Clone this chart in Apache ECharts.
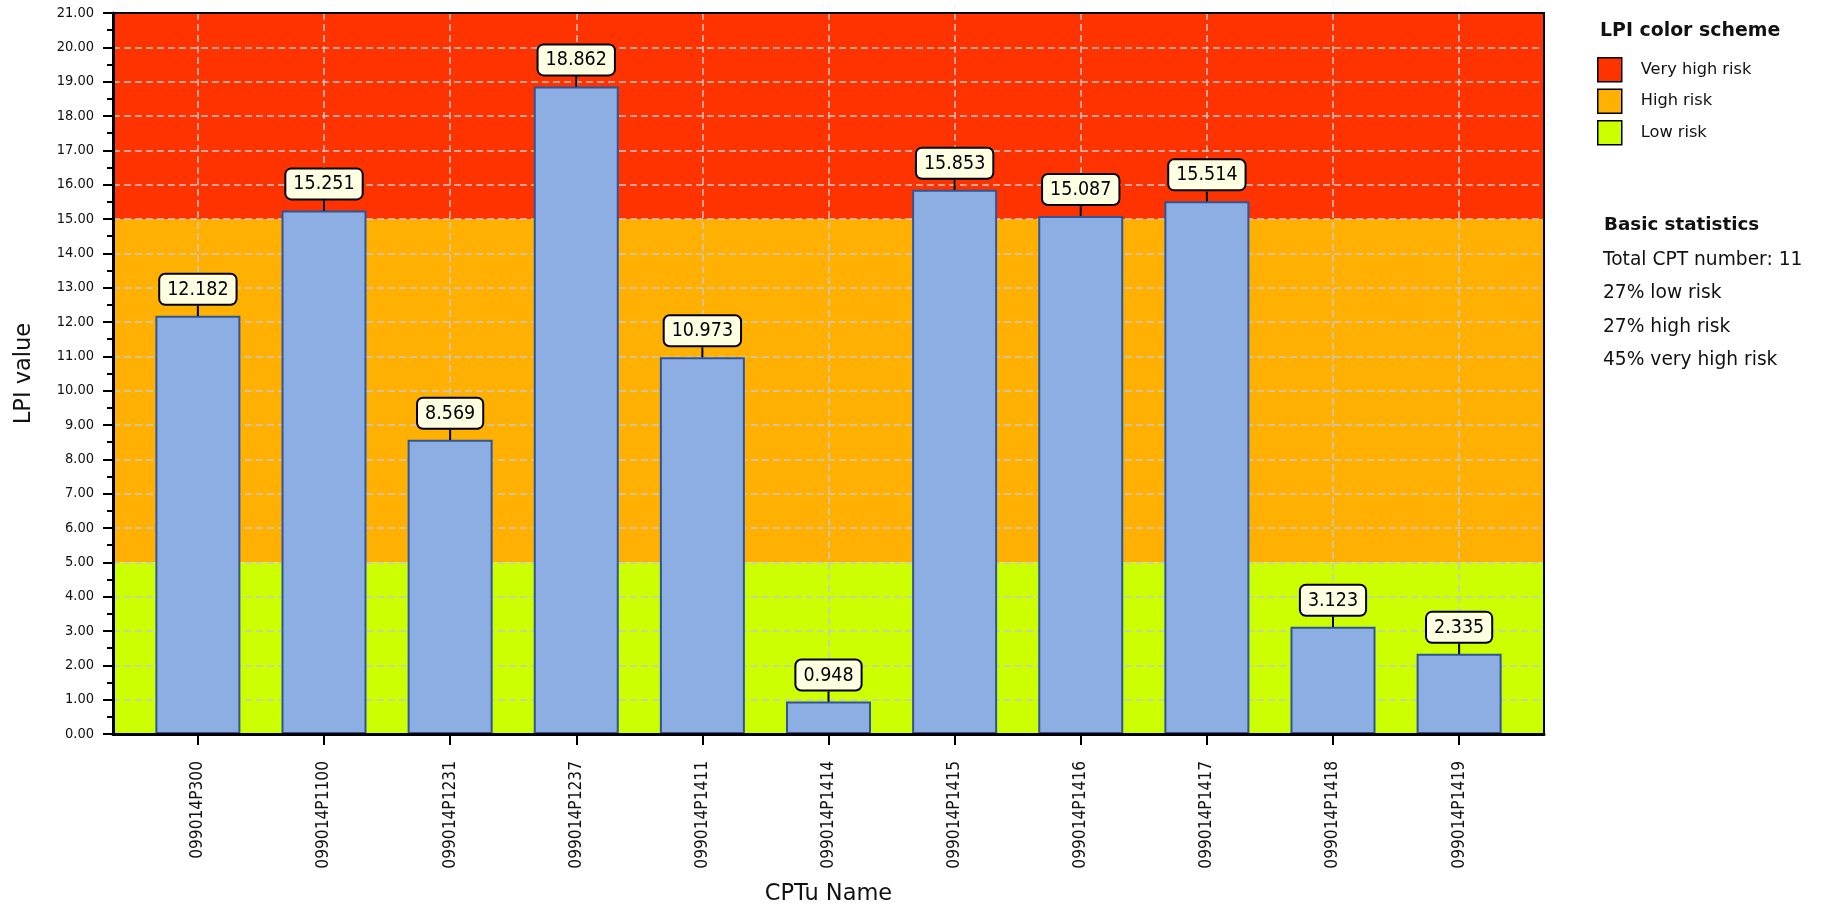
<!DOCTYPE html>
<html>
<head>
<meta charset="utf-8">
<script src="https://cdn.jsdelivr.net/npm/echarts@6/dist/echarts.min.js"></script>
<style>
html,body{margin:0;padding:0;background:#fff;}
#chart{width:1831px;height:910px;}
</style>
</head>
<body>
<div id="chart"></div>
<script>
const categories = ['099014P300','099014P1100','099014P1231','099014P1237','099014P1411','099014P1414','099014P1415','099014P1416','099014P1417','099014P1418','099014P1419'];
const lpiValues = [12.182, 15.251, 8.569, 18.862, 10.973, 0.948, 15.853, 15.087, 15.514, 3.123, 2.335];
const bandNames = ['Very high risk', 'High risk', 'Low risk'];
const bandFrom = [15, 5, 0];
const bandTo = [21, 15, 5];
const bandColors = ['#FF3300', '#FFB000', '#CCFF00'];
const yTicks = [0, 21, 1];

const total = lpiValues.length;
const nLow = lpiValues.filter(v => v < 5).length;
const nHigh = lpiValues.filter(v => v >= 5 && v < 15).length;
const nVery = lpiValues.filter(v => v >= 15).length;
const pct = n => Math.round(100 * n / total) + '%';
const statLines = ['Total CPT number: ' + total, pct(nLow) + ' low risk', pct(nHigh) + ' high risk', pct(nVery) + ' very high risk'];

const FONT = '"DejaVu Sans", sans-serif';
const FONTC = '"DejaVu Sans Condensed", "DejaVu Sans", sans-serif';
const xPad = 0.673;
const idx = categories.map((c, i) => i);

const bandSeries = bandNames.map((name, i) => ({
  type: 'custom',
  name: name,
  z: 0,
  color: bandColors[i],
  itemStyle: {color: bandColors[i]},
  encode: {x: 0, y: [1, 2]},
  data: [[0, bandFrom[i], bandTo[i]]],
  renderItem: function (params, api) {
    const cs = params.coordSys;
    const top = api.coord([0, api.value(2)])[1];
    const bot = api.coord([0, api.value(1)])[1];
    return {
      type: 'rect',
      shape: {x: cs.x, y: top, width: cs.width, height: bot - top},
      style: {fill: api.visual('color')},
      silent: true
    };
  },
  silent: true,
  animation: false
}));

const chart = echarts.init(document.getElementById('chart'), null, {renderer: 'canvas'});
chart.setOption({
  animation: false,
  backgroundColor: '#ffffff',
  textStyle: {fontFamily: FONT},
  grid: {left: 113, top: 13, right: 287, bottom: 176, outerBoundsMode: 'none', containLabel: false,
    show: true, borderColor: '#000', borderWidth: 2, backgroundColor: 'transparent', z: 3},
  title: [
    {text: 'LPI color scheme', left: 1600, top: 22, padding: 0, textStyle: {fontFamily: FONT, fontWeight: 'bold', fontSize: 18.9, color: '#111'}},
    {text: 'Basic statistics', left: 1604, top: 216, padding: 0, textStyle: {fontFamily: FONT, fontWeight: 'bold', fontSize: 18.3, color: '#111'}},
    {text: statLines.join('\n'), left: 1603, top: 243, padding: 0, textStyle: {fontFamily: FONT, fontWeight: 'normal', fontSize: 18.65, lineHeight: 33.5, color: '#111'}}
  ],
  legend: {
    orient: 'vertical',
    left: 1597, top: 57,
    padding: 0,
    itemWidth: 24, itemHeight: 24, itemGap: 6,
    icon: 'rect',
    data: bandNames,
    selectedMode: false,
    itemStyle: {borderColor: '#000', borderWidth: 1.5},
    textStyle: {fontFamily: FONT, fontSize: 16.2, color: '#111', padding: [0, 0, 0, 14]}
  },
  xAxis: {
    type: 'value',
    min: -xPad, max: categories.length - 1 + xPad,
    z: 1,
    name: 'CPTu Name', nameLocation: 'middle', nameGap: 149,
    nameTextStyle: {fontFamily: FONT, fontSize: 22.5, color: '#111'},
    axisLine: {show: true, onZero: false, lineStyle: {color: '#000', width: 3}},
    axisTick: {show: true, customValues: idx, length: 11, lineStyle: {color: '#000', width: 2}},
    axisLabel: {customValues: idx, rotate: 90, margin: 27, fontFamily: FONTC, fontSize: 17.2, color: '#111',
      formatter: v => categories[Math.round(v)]},
    splitLine: {show: true, lineStyle: {color: '#C8C8C8', width: 1.5, type: [7, 4]}}
  },
  yAxis: {
    type: 'value',
    min: yTicks[0], max: yTicks[1], interval: yTicks[2],
    z: 1,
    name: 'LPI value', nameLocation: 'middle', nameGap: 77, nameRotate: 90,
    nameTextStyle: {fontFamily: FONT, fontSize: 22.5, color: '#111'},
    axisLine: {show: true, onZero: false, lineStyle: {color: '#000', width: 3}},
    axisTick: {show: true, length: 10, lineStyle: {color: '#000', width: 2}},
    minorTick: {show: true, splitNumber: 2, length: 6, lineStyle: {color: '#000', width: 2}},
    axisLabel: {margin: 19, fontFamily: FONTC, fontSize: 14.5, color: '#111', formatter: v => v.toFixed(2)},
    splitLine: {show: true, lineStyle: {color: '#C8C8C8', width: 1.5, type: [7, 4]}}
  },
  series: bandSeries.concat([{
    type: 'bar',
    name: 'LPI',
    z: 2,
    barWidth: 85,
    data: lpiValues.map((v, i) => [i, v]),
    itemStyle: {color: '#8DAEE3', borderColor: '#2F5597', borderWidth: 2},
    label: {
      show: true, position: 'top', distance: 0,
      formatter: p => lpiValues[p.dataIndex].toFixed(3),
      fontFamily: FONTC, fontSize: 19.5, color: '#000',
      backgroundColor: '#FFFFE2', borderColor: '#000', borderWidth: 2, borderRadius: 5,
      padding: [5, 7, 4, 7]
    },
    labelLayout: {dy: -12},
    labelLine: {show: true, lineStyle: {color: '#000', width: 2}}
  }])
});
</script>
</body>
</html>
